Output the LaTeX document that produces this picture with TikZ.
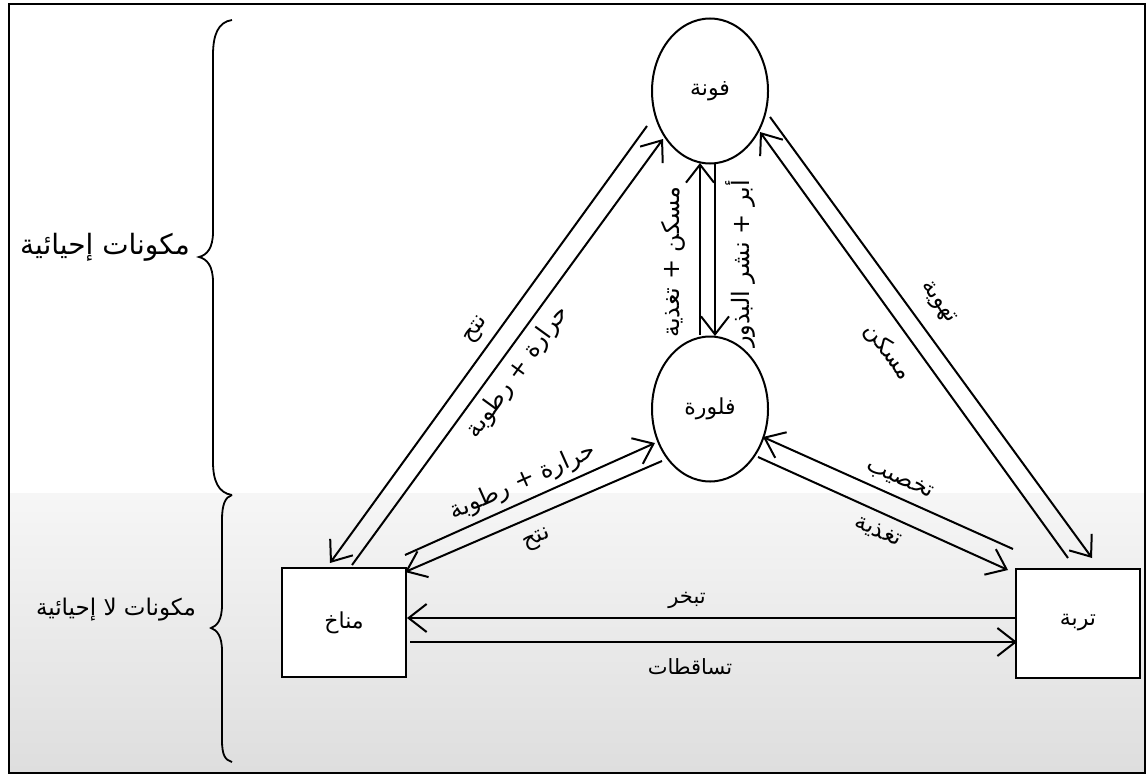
\documentclass[tikz,border=0pt]{standalone}
\usepackage{fontspec}
\newfontfamily\ar[Script=Arabic]{DejaVu Sans}
\TeXXeTstate=1
\usetikzlibrary{arrows.meta,shapes.geometric,calc}
\newcommand{\AR}[1]{\beginR #1\endR}
\begin{document}
\begin{tikzpicture}[x=1pt,y=-1pt,
  lw/.style={line width=2pt},
  ell/.style={ellipse, draw, lw, fill=white, minimum width=116pt, minimum height=145pt, inner sep=0pt, font=\ar\fontsize{22}{26}\selectfont},
  box/.style={rectangle, draw, lw, fill=white, minimum width=124pt, minimum height=109pt, inner sep=0pt, font=\ar\fontsize{22}{26}\selectfont},
  arr/.style={lw, -{Straight Barb[length=18pt,width=28pt]}},
  lbl/.style={inner sep=0pt, font=\ar\fontsize{#1}{26}\selectfont},
  lbl/.default=23,
  side/.style={inner sep=0pt, font=\ar\fontsize{#1}{30}\selectfont},
  brace/.style={line width=1.8pt}
]
\useasboundingbox (0,0) rectangle (1147,776);
% shaded lower band
\shade[top color=gray!7, bottom color=gray!26] (9,493) rectangle (1145,773);
% outer frame
\draw[line width=2.5pt] (9,4) rectangle (1145,773);

% braces
\draw[brace] (232,20) .. controls (218,22) and (213,35) .. (213,55) -- (213,232)
  .. controls (213,248) and (207,255) .. (199,257)
  .. controls (207,259) and (213,266) .. (213,282) -- (213,462)
  .. controls (213,480) and (218,493) .. (232,495);
\draw[brace] (232,495) .. controls (225,497) and (222,505) .. (222,520) -- (222,605)
  .. controls (222,620) and (217,626) .. (211,628)
  .. controls (217,630) and (222,636) .. (222,651) -- (222,740)
  .. controls (222,755) and (225,760) .. (232,762);
\node[side=28] (bio) at (105,247) {\AR{مكونات إحيائية}};
\node[side=23] (abio) at (116,610) {\AR{مكونات لا إحيائية}};

% main nodes
\node[ell] (fauna) at (710,91) {\AR{فونة}};
\node[ell] (flora) at (710,409) {\AR{فلورة}};
\node[box] (climate) at (344,622.5) {\AR{مناخ}};
\node[box] (soil) at (1078,623) {\AR{تربة}};

% fauna <-> climate
\draw[arr] ($(fauna.center)+(-63,35)$) -- ($(climate.center)+(-14,-59.5)$);
\draw[arr] ($(climate.center)+(8,-57.5)$) -- ($(fauna.center)+(-47,48)$);
% fauna <-> soil
\draw[arr] ($(fauna.center)+(60,26)$) -- ($(soil.center)+(14,-65)$);
\draw[arr] ($(soil.center)+(-10,-65)$) -- ($(fauna.center)+(50,41)$);
% fauna <-> flora
\draw[arr] ($(fauna.center)+(5,72)$) -- ($(flora.center)+(5,-73)$);
\draw[arr] ($(flora.center)+(-10,-74)$) -- ($(fauna.center)+(-10,72)$);
% climate <-> flora
\draw[arr] ($(climate.center)+(61,-67.5)$) -- ($(flora.center)+(-55,34)$);
\draw[arr] ($(flora.center)+(-48,52)$) -- ($(climate.center)+(61,-50.5)$);
% soil <-> flora
\draw[arr] ($(soil.center)+(-65,-74)$) -- ($(flora.center)+(53,28)$);
\draw[arr] ($(flora.center)+(48,48)$) -- ($(soil.center)+(-70,-53)$);
% soil <-> climate
\draw[arr] ($(soil.center)+(-63,-5)$) -- ($(climate.center)+(63,-4.5)$);
\draw[arr] ($(climate.center)+(66,19.5)$) -- ($(soil.center)+(-61,19)$);

% labels
\node[lbl, rotate=54] (l1) at (477,330) {\AR{نتح}};
\node[lbl=24, rotate=54] (l2) at (518,372) {\AR{حرارة + رطوبة}};
\node[lbl, rotate=-54] (l3) at (938,303) {\AR{تهوية}};
\node[lbl, rotate=-54] (l4) at (888,352) {\AR{مسكن}};
\node[lbl=24, rotate=24] (l5) at (523,482) {\AR{حرارة + رطوبة}};
\node[lbl, rotate=24] (l6) at (537,540) {\AR{نتح}};
\node[lbl, rotate=-24] (l7) at (900,480) {\AR{تخصيب}};
\node[lbl, rotate=-24] (l8) at (878,532) {\AR{تغذية}};
\node[lbl=21] (l9) at (687,600) {\AR{تبخر}};
\node[lbl=21] (l10) at (690,667) {\AR{تساقطات}};
\node[lbl=24, rotate=90] (l11) at (673,262) {\AR{مسكن + تغذية}};
\node[lbl=24, rotate=90] (l12) at (740,264) {\AR{أبر + نشر البذور}};
\end{tikzpicture}
\end{document}
